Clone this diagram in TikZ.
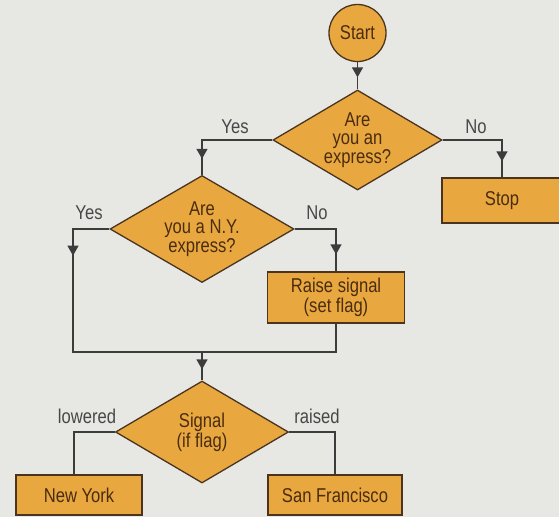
\documentclass[tikz,border=0pt]{standalone}
\usepackage{fontspec}
\setmainfont[FakeStretch=0.83]{Liberation Sans}
\usetikzlibrary{shapes.geometric,arrows.meta,decorations.markings}
\definecolor{bg}{HTML}{E7E7E4}
\definecolor{fillc}{HTML}{E8A83F}
\definecolor{txt}{HTML}{4A2C10}
\definecolor{edgec}{HTML}{4A3420}
\definecolor{wirec}{HTML}{3C3C3C}
\definecolor{lblc}{HTML}{474747}
\tikzset{
  shapebase/.style={draw=edgec, fill=fillc, line width=1.3pt, text=txt, align=center,
    font=\fontsize{20}{18.5}\selectfont},
  dia/.style={shapebase, diamond, aspect=1.8, inner sep=0pt},
  stepbox/.style={shapebase, rectangle, inner sep=0pt},
  wire/.style={draw=wirec, line width=1.3pt},
  lbl/.style={text=lblc, font=\fontsize{20}{18.5}\selectfont, inner sep=0pt},
  midarr/.style={postaction={decorate}, decoration={markings,
    mark=at position #1 with {\arrow{Triangle[width=11pt,length=10pt]}}}}
}
\begin{document}
\begin{tikzpicture}[x=1pt,y=-1pt]
\useasboundingbox (0,0) rectangle (559,517);
\fill[bg] (0,0) rectangle (559,517);

\node[shapebase, circle, minimum size=57pt, inner sep=0pt] (start) at (357.5,33) {Start};
\node[dia, minimum width=169pt, minimum height=100pt] (d1) at (357.5,140) {Are\\you an\\express?};
\node[stepbox, minimum width=120pt, minimum height=45pt] (stop) at (502,200.5) {Stop};
\node[dia, minimum width=184pt, minimum height=107pt] (d2) at (202,229) {Are\\you a N.Y.\\express?};
\node[stepbox, minimum width=137pt, minimum height=51pt] (raise) at (336,297.5) {Raise signal\\(set flag)};
\node[dia, minimum width=173pt, minimum height=102pt] (sig) at (202,432) {Signal\\(if flag)};
\node[stepbox, minimum width=126pt, minimum height=40pt] (ny) at (79,495) {New York};
\node[stepbox, minimum width=134pt, minimum height=40pt] (sf) at (335,495) {San Francisco};

\coordinate (jl) at (73,352);
\coordinate (m) at (202,352);

\draw[wire, midarr=-12pt] (start.south) -- (d1.north);
\draw[wire, midarr=-16pt] (d1.west) -| (d2.north);
\draw[wire, midarr=-16pt] (d1.east) -| (stop.north);
\draw[wire, midarr=-17pt] (d2.east) -| (raise.north);
\draw[wire, midarr=63pt] (d2.west) -| (jl) -- (m);
\draw[wire] (raise.south) |- (m);
\draw[wire, midarr=-11pt] (m) -- (sig.north);
\draw[wire] (sig.west) -| ([xshift=-5pt]ny.north);
\draw[wire] (sig.east) -| (sf.north);

\node[lbl] (yes1) at (235,127) {Yes};
\node[lbl] (no1) at (476,127) {No};
\node[lbl] (yes2) at (89,213) {Yes};
\node[lbl] (no2) at (317,213) {No};
\node[lbl] (low) at (87,416) {lowered};
\node[lbl] (rai) at (317,416) {raised};
\end{tikzpicture}
\end{document}
